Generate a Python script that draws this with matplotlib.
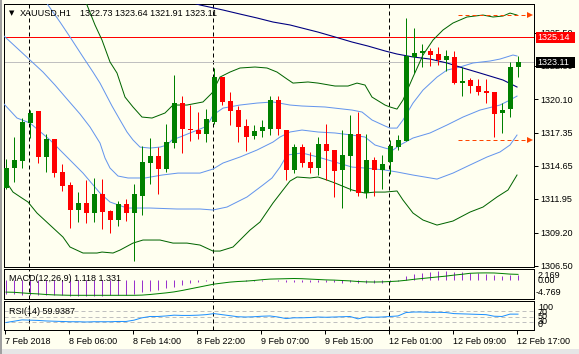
import matplotlib
matplotlib.use('Agg')
import matplotlib.pyplot as plt
from matplotlib.patches import Rectangle

W, H = 579, 354
BG = '#FFFFF0'
FONT = ['Liberation Sans', 'DejaVu Sans']
FS = 6.5

# ---------------- data ----------------
symbol_title = "XAUUSD,H1"
ohlc_title = "1322.73 1323.64 1321.91 1323.11"

opens = [1312.84, 1314.47, 1315.04, 1318.14, 1319.12, 1315.37, 1316.84, 1314.15, 1313.09, 1311.05,
         1311.62, 1310.80, 1312.35, 1310.96, 1310.23, 1311.53, 1310.80, 1312.19, 1314.88, 1315.45,
         1314.39, 1316.51, 1319.77, 1317.65, 1317.57, 1317.24, 1318.22, 1321.89, 1319.94, 1319.20,
         1317.90, 1317.08, 1317.49, 1317.65, 1320.02, 1317.57, 1314.31, 1316.18, 1314.96, 1314.47,
         1316.43, 1315.94, 1314.31, 1315.45, 1317.24, 1312.43, 1315.12, 1314.31, 1314.96, 1316.18,
         1316.67, 1323.53, 1323.85, 1324.02, 1323.77, 1323.28, 1323.53, 1321.40, 1321.65, 1321.16,
         1320.75, 1320.67, 1318.96, 1319.28, 1322.73]
highs = [1315.21, 1317.00, 1318.55, 1319.20, 1319.15, 1317.24, 1316.86, 1314.80, 1313.33, 1312.51,
         1313.49, 1313.66, 1313.57, 1311.05, 1311.78, 1311.94, 1313.17, 1316.27, 1316.92, 1316.18,
         1318.06, 1322.06, 1320.34, 1319.61, 1319.04, 1319.28, 1322.63, 1321.92, 1320.67, 1319.53,
         1318.47, 1317.98, 1318.39, 1320.34, 1320.34, 1317.60, 1316.43, 1316.43, 1315.78, 1317.00,
         1318.06, 1315.96, 1317.57, 1318.79, 1319.04, 1317.24, 1315.37, 1315.53, 1316.76, 1317.16,
         1326.71, 1325.89, 1324.59, 1324.26, 1324.34, 1324.10, 1324.02, 1322.71, 1321.81, 1321.73,
         1321.73, 1320.70, 1319.77, 1323.12, 1323.64]
lows = [1312.80, 1313.33, 1314.47, 1316.92, 1314.88, 1314.15, 1313.74, 1312.60, 1309.58, 1310.07,
        1309.99, 1310.07, 1309.50, 1309.17, 1309.74, 1310.15, 1306.89, 1310.64, 1313.17, 1312.35,
        1314.15, 1316.10, 1315.70, 1316.67, 1316.84, 1316.59, 1318.06, 1319.61, 1317.98, 1316.59,
        1315.86, 1316.84, 1317.00, 1317.16, 1317.16, 1313.49, 1314.06, 1314.55, 1314.06, 1313.90,
        1313.49, 1312.11, 1311.21, 1312.60, 1312.19, 1312.02, 1312.19, 1312.76, 1313.98, 1315.94,
        1316.65, 1322.22, 1322.71, 1322.79, 1322.87, 1322.38, 1321.35, 1320.34, 1320.59, 1320.43,
        1319.77, 1317.00, 1317.33, 1318.63, 1321.91]
closes = [1314.47, 1315.12, 1318.22, 1318.96, 1315.37, 1316.84, 1314.06, 1313.00, 1311.05, 1311.62,
          1310.80, 1312.35, 1310.88, 1310.23, 1311.53, 1310.80, 1312.35, 1314.96, 1315.45, 1314.39,
          1316.59, 1319.77, 1317.65, 1317.57, 1317.24, 1318.47, 1321.89, 1319.86, 1319.12, 1317.82,
          1317.00, 1317.49, 1317.82, 1320.02, 1317.65, 1314.31, 1316.18, 1314.88, 1314.47, 1316.43,
          1315.86, 1314.23, 1315.53, 1317.24, 1312.43, 1315.12, 1314.31, 1314.80, 1316.27, 1316.76,
          1323.61, 1323.85, 1324.02, 1323.69, 1323.28, 1323.61, 1321.40, 1321.57, 1321.16, 1320.67,
          1320.59, 1318.88, 1319.20, 1322.71, 1323.11]

# time axis (bar index of each label)
time_tick_bars = [0, 8, 16, 24, 32, 40, 48, 56, 64]
time_tick_labels = ["7 Feb 2018", "8 Feb 06:00", "8 Feb 14:00", "8 Feb 22:00", "9 Feb 07:00",
                    "9 Feb 15:00", "12 Feb 01:00", "12 Feb 09:00", "12 Feb 17:00"]
day_separator_bars = [3, 26, 48]

price_ticks = [1325.50, 1322.80, 1320.10, 1317.35, 1314.65, 1311.95, 1309.20, 1306.50]
price_tick_labels = ["1325.50", "1322.80", "1320.10", "1317.35", "1314.65", "1311.95", "1309.20", "1306.50"]
red_level = 1325.14
last_price = 1323.11

# outer (green) band: bar position, price
green_up_x = [9.625, 10.125, 11.125, 12.0, 13.0, 13.875, 14.875, 15.875, 17.0, 18.25, 19.875, 20.875,
              22.625, 24.625, 25.75, 26.75, 28.0, 29.25, 31.125, 32.625, 33.875, 35.125, 35.875, 37.75,
              39.0, 41.125, 42.75, 43.875, 44.875, 45.75, 47.375, 48.0, 48.875, 49.625, 50.875, 52.125,
              53.375, 54.625, 55.875, 57.625, 59.625, 60.875, 62.125, 63.0, 63.875]
green_up_y = [1328.58, 1327.77, 1326.14, 1324.91, 1323.12, 1322.22, 1320.26, 1319.45, 1318.63, 1318.55,
              1318.96, 1319.61, 1319.61, 1319.86, 1320.59, 1321.89, 1322.30, 1322.63, 1322.71, 1322.63,
              1322.30, 1321.73, 1321.40, 1321.49, 1321.40, 1321.16, 1321.16, 1321.40, 1321.24, 1320.26,
              1319.61, 1319.45, 1319.28, 1320.02, 1321.89, 1323.69, 1324.91, 1325.73, 1326.30, 1326.79,
              1326.95, 1326.79, 1326.87, 1327.11, 1326.95]
green_lo_x = [-0.125, 0.875, 2.0, 2.75, 3.875, 5.5, 7.125, 8.0, 9.625, 11.375, 12.0, 13.375, 14.25,
              15.875, 17.125, 19.25, 20.875, 22.625, 24.25, 25.875, 26.75, 28.375, 30.5, 31.75, 33.375,
              34.625, 35.5, 36.375, 38.0, 39.0, 40.125, 41.125, 43.25, 44.875, 46.125, 47.375, 48.875,
              49.625, 50.875, 52.125, 53.875, 55.875, 58.0, 59.625, 61.375, 62.75, 63.875]
green_lo_y = [1313.49, 1312.51, 1312.02, 1311.70, 1310.80, 1309.82, 1308.84, 1308.03, 1307.54, 1307.54,
              1307.62, 1307.54, 1307.78, 1308.35, 1308.60, 1308.60, 1308.35, 1308.35, 1308.19, 1307.70,
              1307.70, 1308.03, 1309.41, 1310.07, 1311.62, 1312.68, 1313.41, 1313.74, 1313.66, 1313.74,
              1313.49, 1313.25, 1312.68, 1312.43, 1312.51, 1312.51, 1312.60, 1311.86, 1310.80, 1310.23,
              1309.82, 1310.15, 1310.88, 1311.29, 1312.11, 1312.68, 1313.90]

# inner (blue) band
blue_up_x = [4.75, 5.25, 6.75, 8.0, 9.625, 10.875, 11.75, 13.25, 14.25, 15.125, 15.875, 16.75, 18.0,
             19.25, 20.125, 20.75, 21.75, 23.0, 24.25, 25.125, 25.875, 27.125, 29.25, 31.375, 33.375,
             35.5, 37.0, 39.875, 43.25, 44.5, 45.75, 47.375, 48.0, 48.875, 49.625, 50.875, 52.125,
             53.875, 55.125, 56.75, 58.375, 60.5, 61.75, 63.375, 63.875]
blue_up_y = [1328.34, 1327.77, 1326.38, 1325.16, 1323.53, 1322.30, 1321.40, 1319.53, 1318.39, 1317.41,
             1316.76, 1316.18, 1316.10, 1316.18, 1316.35, 1316.76, 1317.00, 1317.33, 1317.65, 1317.90,
             1318.79, 1319.36, 1319.61, 1319.77, 1319.86, 1319.61, 1319.53, 1319.45, 1319.20, 1319.04,
             1318.39, 1317.90, 1317.73, 1317.73, 1318.39, 1319.77, 1320.83, 1321.89, 1322.46, 1322.71,
             1323.04, 1323.20, 1323.36, 1323.69, 1323.61]
blue_mid_x = [-0.25, 1.375, 3.0, 4.625, 6.125, 7.625, 9.25, 10.5, 11.75, 12.375, 13.0, 14.0, 15.25,
              17.375, 19.5, 21.5, 24.25, 25.875, 27.125, 29.25, 31.375, 33.375, 34.25, 35.5, 37.0, 39.0,
              41.125, 43.25, 44.875, 46.125, 47.375, 48.375, 49.25, 50.875, 53.0, 55.125, 57.125, 59.25,
              61.75, 63.0, 63.875]
blue_mid_y = [1325.24, 1324.26, 1323.28, 1322.30, 1321.24, 1320.10, 1318.88, 1317.82, 1316.51, 1315.29,
              1314.47, 1313.82, 1313.66, 1313.66, 1313.90, 1314.06, 1314.06, 1314.39, 1314.88, 1315.37,
              1315.94, 1316.59, 1317.00, 1317.41, 1317.57, 1317.41, 1317.33, 1317.16, 1317.00, 1316.35,
              1316.10, 1315.94, 1316.35, 1316.92, 1317.33, 1317.98, 1318.63, 1319.20, 1319.61, 1320.02,
              1320.34]
blue_lo_x = [-0.25, 1.375, 3.0, 5.5, 7.625, 9.625, 11.75, 13.0, 15.125, 18.0, 21.375, 24.25, 25.875,
             27.625, 30.125, 32.125, 33.25, 34.25, 35.125, 37.0, 39.0, 41.125, 43.25, 44.875, 47.375,
             48.875, 50.875, 53.875, 55.875, 58.0, 60.125, 61.75, 63.0, 63.875]
blue_lo_y = [1319.69, 1318.55, 1318.14, 1316.76, 1315.37, 1314.06, 1312.43, 1311.70, 1311.21, 1311.21,
             1311.13, 1311.13, 1311.05, 1311.29, 1312.11, 1313.09, 1313.66, 1314.55, 1315.53, 1315.70,
             1315.37, 1314.96, 1314.55, 1314.47, 1314.31, 1314.15, 1313.90, 1313.57, 1314.06, 1314.72,
             1315.37, 1315.78, 1316.35, 1317.16]

# slow moving average (navy)
ma_x = [20.5, 24.25, 27.125, 29.25, 31.375, 33.375, 35.5, 37.0, 39.0, 41.125, 43.25, 45.25, 47.375,
        48.875, 50.875, 53.0, 55.125, 57.125, 59.25, 62.125, 63.875]
ma_y = [1328.50, 1327.77, 1327.36, 1327.03, 1326.71, 1326.38, 1326.14, 1325.89, 1325.56, 1325.16,
        1324.75, 1324.42, 1324.02, 1323.77, 1323.53, 1323.36, 1323.04, 1322.63, 1322.22, 1321.65,
        1321.08]

# dashed target levels (orange)
target_x = [56.5, 65.4]
target_levels = [1326.95, 1316.76]

# MACD(12,26,9)
macd_main = [-3.5, -3.6, -3.7, -3.7, -3.8, -3.8, -3.9, -3.9, -4.0, -4.1,
             -4.1, -4.0, -4.0, -3.9, -3.9, -3.8, -3.6, -3.15, -2.85, -2.45,
             -2.1, -1.75, -1.35, -0.9, -0.6, -0.25, -0.1, 0.05, 0.0, -0.1,
             -0.2, -0.25, -0.25, -0.15, -0.2, -0.45, -0.5, -0.55, -0.6, -0.55,
             -0.55, -0.65, -0.7, -0.55, -0.8, -0.75, -0.75, -0.7, -0.55, -0.35,
             0.9, 1.4, 1.7, 1.9, 2.1, 2.17, 2.0, 1.85, 1.7, 1.6,
             1.5, 1.25, 1.0, 1.1, 1.118]
macd_signal = [-3.1, -3.15, -3.3, -3.45, -3.55, -3.7, -3.8, -3.85, -3.9, -3.9,
               -3.9, -3.9, -3.9, -3.9, -3.9, -3.9, -3.9, -3.85, -3.7, -3.5,
               -3.3, -3.05, -2.7, -2.3, -1.9, -1.5, -1.1, -0.85, -0.6, -0.45,
               -0.35, -0.2, 0.0, 0.15, 0.2, 0.25, 0.3, 0.25, 0.15, 0.05,
               -0.05, -0.1, -0.2, -0.3, -0.45, -0.55, -0.58, -0.55, -0.45, -0.35,
               -0.15, 0.1, 0.3, 0.5, 0.7, 0.9, 1.15, 1.35, 1.6, 1.68,
               1.7, 1.68, 1.55, 1.4, 1.331]
macd_label = "MACD(12,26,9) 1.118 1.331"
macd_scale_labels = ["2.169", "0.00", "-4.769"]

# RSI(14)
rsi = [28, 33, 38, 37, 36, 34, 33, 32, 31, 31,
       30, 31, 31, 31, 32, 32, 37, 46, 51, 51,
       53, 56, 55, 55, 56, 58, 62, 58, 54, 50,
       49, 50, 52, 53, 49, 43, 46, 46, 47, 49,
       48, 49, 50, 51, 42, 49, 48, 49, 51, 53,
       66, 68, 68, 67, 67, 66, 62, 61, 60, 59,
       58, 52, 51, 60, 59.94]
rsi_levels = [70, 50, 30]
rsi_label = "RSI(14) 59.9387"
rsi_scale_labels = ["100", "70", "50", "30", "0"]

# ---------------- drawing ----------------
def fx(x):
    return x / W

def fy(y):
    return 1 - y / H

PX = 72.0 / 100.0  # one pixel in points

fig = plt.figure(figsize=(W / 100, H / 100), dpi=100, facecolor=BG)

ax = fig.add_axes([fx(4), fy(267), 530 / W, 263 / H])
axm = fig.add_axes([fx(4), fy(299), 530 / W, 30 / H])
axr = fig.add_axes([fx(4), fy(330), 530 / W, 29 / H])

XMIN, XMAX = -0.25, 66.0
for a in (ax, axm, axr):
    a.set_facecolor(BG)
    a.set_xlim(XMIN, XMAX)
    for s in a.spines.values():
        s.set_color('black')
        s.set_linewidth(PX)
    a.set_xticks([])
    a.set_yticks([])
    for b in day_separator_bars:
        a.axvline(b - 0.1, color='black', lw=PX, ls=(0, (4, 3)), zorder=1)

# ---- main panel ----
ax.set_ylim(1306.40, 1327.85)
ax.axhline(last_price, color='#C0C0C0', lw=PX, zorder=1)
ax.axhline(red_level, color='#FF0000', lw=PX, zorder=2)

ax.plot(green_up_x, green_up_y, color='#006400', lw=PX, zorder=3)
ax.plot(green_lo_x, green_lo_y, color='#006400', lw=PX, zorder=3)
ax.plot(blue_up_x, blue_up_y, color='#6495ED', lw=PX, zorder=3)
ax.plot(blue_mid_x, blue_mid_y, color='#6495ED', lw=PX, zorder=3)
ax.plot(blue_lo_x, blue_lo_y, color='#6495ED', lw=PX, zorder=3)
ax.plot(ma_x, ma_y, color='#000080', lw=1.1 * PX, zorder=3)

bull, bear = '#008000', '#FF0000'
n = len(opens)
for i in range(n):
    o, h, l, c = opens[i], highs[i], lows[i], closes[i]
    col = bull if c >= o else bear
    ax.vlines(i, l, h, color=col, lw=PX, zorder=4)
    lo = min(o, c)
    hgt = max(abs(c - o), 0.07)
    ax.add_patch(Rectangle((i - 0.3125, lo), 0.625, hgt, facecolor=col,
                           edgecolor='none', zorder=5))

for lv in target_levels:
    ax.plot(target_x, [lv, lv], color='#FF4500', lw=PX, ls=(0, (4, 3)), zorder=3, clip_on=False)
    ax.plot([target_x[1] + 0.05], [lv], marker='>', color='#FF4500', ms=4.5,
            markeredgewidth=0, zorder=6, clip_on=False)

# right axis ticks & labels
ax.yaxis.tick_right()
ax.set_yticks(price_ticks)
ax.set_yticklabels(price_tick_labels, fontsize=FS, family=FONT)
ax.tick_params(axis='y', direction='out', length=4 * PX, width=PX, pad=2 * PX, colors='black')
ax.set_ylim(1306.40, 1327.85)

# price boxes
def box(y0, y1, fc, txt):
    fig.patches.append(Rectangle((fx(536), fy(y1)), (575 - 536) / W, (y1 - y0) / H,
                                 transform=fig.transFigure, facecolor=fc, edgecolor='none', zorder=10))
    fig.text(fx(537.5), fy((y0 + y1) / 2), txt, color='white', fontsize=FS, family=FONT,
             va='center', ha='left', zorder=11)

box(32, 43, '#FF0000', "1325.14")
box(57, 67.5, '#000000', "1323.11")

# title
fig.text(fx(8.5), fy(13.3), "\u25BC", fontsize=5.0, family=['DejaVu Sans'], va='center', ha='left')
fig.text(fx(20), fy(13.3), symbol_title, fontsize=FS, family=FONT, va='center', ha='left')
fig.text(fx(80), fy(13.3), ohlc_title, fontsize=FS, family=FONT, va='center', ha='left')

# ---- MACD panel ----
axm.set_ylim(-4.825, 2.675)
axm.vlines(range(n), 0, macd_main, color='#9932CC', lw=PX, zorder=3)
axm.plot(range(n), macd_signal, color='#008000', lw=PX, zorder=4)
fig.text(fx(9), fy(278.5), macd_label, fontsize=FS, family=FONT, va='center', ha='left')
fig.text(fx(538), fy(275), macd_scale_labels[0], fontsize=FS, family=FONT, va='center', ha='left')
fig.text(fx(538), fy(280.5), macd_scale_labels[1], fontsize=FS, family=FONT, va='center', ha='left')
fig.text(fx(535.5), fy(292.5), macd_scale_labels[2], fontsize=FS, family=FONT, va='center', ha='left')

# ---- RSI panel ----
axr.set_ylim(-0.5, 110)
for lv in rsi_levels:
    axr.axhline(lv, color='#C0C0C0', lw=PX, ls=(0, (4, 3)), zorder=2)
axr.plot(range(n), rsi, color='#1E90FF', lw=PX, zorder=3)
fig.text(fx(9), fy(311.7), rsi_label, fontsize=FS, family=FONT, va='center', ha='left')
rsi_label_y = [308, 312.5, 316.5, 322, 324.5]
for t, yy in zip(rsi_scale_labels, rsi_label_y):
    fig.text(fx(538), fy(yy), t, fontsize=FS, family=FONT, va='center', ha='left')

# bottom time axis
axr.set_xticks([b - 0.1 for b in time_tick_bars])
axr.set_xticklabels(time_tick_labels, fontsize=FS, family=FONT, ha='left')
axr.tick_params(axis='x', direction='out', length=4 * PX, width=PX, pad=3 * PX, colors='black')
axr.set_xlim(XMIN, XMAX)

# window frame strips
fig.patches.append(Rectangle((0, 0), 1, 5 / H, transform=fig.transFigure,
                             facecolor='#E6E6E6', edgecolor='none', zorder=0))
fig.patches.append(Rectangle((0, 0), 2 / W, 1, transform=fig.transFigure,
                             facecolor='#A0A0A0', edgecolor='none', zorder=0))

fig.savefig('out.png', dpi=100, facecolor=BG)
